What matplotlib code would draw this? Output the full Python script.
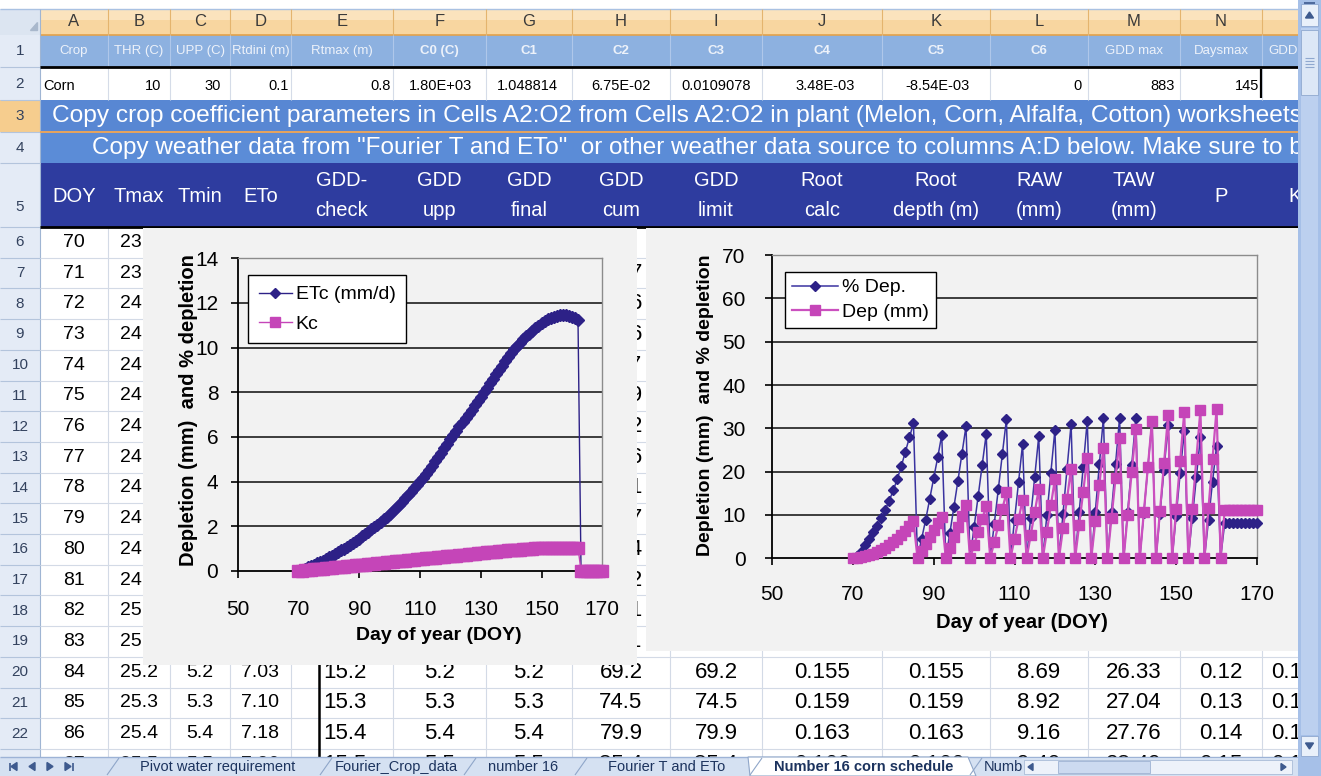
import matplotlib
matplotlib.use("Agg")
import matplotlib.pyplot as plt
from matplotlib.patches import Rectangle, Polygon

W, H = 1321, 776

# ---------------- chart data ----------------
doy = list(range(70, 171))

etc_mm = [0.00, 0.05, 0.10, 0.16, 0.22, 0.28, 0.34, 0.41, 0.47, 0.54,
          0.61, 0.68, 0.76, 0.84, 0.92, 1.00, 1.08, 1.17, 1.26, 1.35,
          1.45, 1.55, 1.65, 1.75, 1.86, 1.97, 2.08, 2.20, 2.31, 2.43,
          2.56, 2.69, 2.83, 2.97, 3.11, 3.25, 3.40, 3.55, 3.70, 3.85,
          4.01, 4.18, 4.36, 4.54, 4.72, 4.91, 5.10, 5.30, 5.50, 5.70,
          5.90, 6.09, 6.28, 6.47, 6.66, 6.85, 7.04, 7.23, 7.42, 7.61,
          7.80, 8.00, 8.20, 8.40, 8.60, 8.80, 9.00, 9.19, 9.38, 9.57,
          9.75, 9.92, 10.08, 10.23, 10.37, 10.50, 10.62, 10.74, 10.87, 10.99,
          11.10, 11.19, 11.27, 11.34, 11.39, 11.42, 11.44, 11.45, 11.44, 11.42,
          11.38, 11.33, 11.25, 0, 0, 0, 0, 0, 0, 0,
          0]

kc = [0.00, 0.01, 0.03, 0.04, 0.05, 0.07, 0.08, 0.09, 0.11, 0.12,
      0.13, 0.15, 0.16, 0.17, 0.19, 0.20, 0.21, 0.23, 0.24, 0.25,
      0.27, 0.28, 0.29, 0.31, 0.32, 0.33, 0.35, 0.36, 0.37, 0.39,
      0.40, 0.41, 0.43, 0.44, 0.45, 0.47, 0.48, 0.49, 0.51, 0.52,
      0.53, 0.55, 0.56, 0.57, 0.59, 0.60, 0.61, 0.63, 0.64, 0.65,
      0.67, 0.68, 0.69, 0.71, 0.72, 0.73, 0.75, 0.76, 0.77, 0.79,
      0.80, 0.81, 0.83, 0.84, 0.85, 0.87, 0.88, 0.89, 0.91, 0.92,
      0.93, 0.94, 0.95, 0.96, 0.97, 0.98, 0.99, 1.00, 1.01, 1.02,
      1.02, 1.03, 1.03, 1.04, 1.04, 1.04, 1.05, 1.05, 1.05, 1.05,
      1.05, 1.05, 1.05, 0, 0, 0, 0, 0, 0, 0,
      0]

pct_dep = [0.0, 0.5, 1.5, 3.0, 4.5, 6.0, 7.5, 9.3, 11.2, 13.3,
           15.7, 18.3, 21.3, 24.6, 27.9, 31.2, 0.0, 4.4, 8.8, 13.6,
           18.5, 23.3, 28.5, 0.0, 5.8, 11.8, 17.9, 24.2, 30.5, 0.0,
           7.2, 14.3, 21.5, 28.7, 0.0, 8.0, 16.0, 24.1, 32.1, 0.0,
           8.8, 17.6, 26.4, 0.0, 9.4, 18.8, 28.2, 0.0, 9.9, 19.8,
           29.7, 0.0, 10.3, 20.7, 31.0, 0.0, 10.6, 21.2, 31.8, 0.0,
           10.8, 21.7, 32.5, 0.0, 10.8, 21.7, 32.5, 0.0, 10.8, 21.5,
           32.3, 0.0, 10.5, 21.0, 31.5, 0.0, 10.3, 20.5, 30.8, 0.0,
           9.8, 19.7, 29.5, 0.0, 9.4, 18.7, 28.1, 0.0, 8.8, 17.7,
           26.0, 0.0, 8.1, 8.1, 8.1, 8.1, 8.1, 8.1, 8.1, 8.1,
           8.1]

dep_mm = [0.0, 0.1, 0.3, 0.5, 0.8, 1.1, 1.5, 1.9, 2.4, 3.0,
          3.7, 4.4, 5.3, 6.3, 7.5, 8.7, 0.0, 1.6, 3.3, 5.0,
          6.6, 8.2, 9.6, 0.0, 2.4, 4.9, 7.3, 9.7, 12.2, 0.0,
          3.1, 6.0, 9.0, 12.1, 0.0, 3.8, 7.6, 11.4, 15.2, 0.0,
          4.5, 9.0, 13.5, 0.0, 5.3, 10.6, 16.0, 0.0, 6.1, 12.2,
          18.3, 0.0, 6.9, 13.8, 20.7, 0.0, 7.7, 15.4, 23.2, 0.0,
          8.5, 17.0, 25.5, 0.0, 9.3, 18.5, 27.8, 0.0, 10.0, 19.9,
          29.8, 0.0, 10.6, 21.1, 31.6, 0.0, 11.0, 22.0, 33.0, 0.0,
          11.3, 22.5, 33.8, 0.0, 11.5, 23.0, 34.3, 0.0, 11.6, 23.0,
          34.5, 0.0, 11.1, 11.1, 11.1, 11.1, 11.1, 11.1, 11.1, 11.1,
          11.1]

x_ticks = [50, 70, 90, 110, 130, 150, 170]

# ---------------- worksheet text ----------------
col_letters = ["A", "B", "C", "D", "E", "F", "G", "H", "I", "J", "K", "L", "M", "N"]
row1_labels = ["Crop", "THR (C)", "UPP (C)", "Rtdini (m)", "Rtmax (m)", "C0 (C)", "C1", "C2",
               "C3", "C4", "C5", "C6", "GDD max", "Daysmax", "GDD"]
row2_values = ["Corn", "10", "30", "0.1", "0.8", "1.80E+03", "1.048814", "6.75E-02",
               "0.0109078", "3.48E-03", "-8.54E-03", "0", "883", "145"]
row3_text = "Copy crop coefficient parameters in Cells A2:O2 from Cells A2:O2 in plant (Melon, Corn, Alfalfa, Cotton) worksheets"
row4_text = "Copy weather data from \"Fourier T and ETo\"  or other weather data source to columns A:D below. Make sure to b"
row5_headers = [["DOY"], ["Tmax"], ["Tmin"], ["ETo"], ["GDD-", "check"], ["GDD", "upp"], ["GDD", "final"],
                ["GDD", "cum"], ["GDD", "limit"], ["Root", "calc"], ["Root", "depth (m)"], ["RAW", "(mm)"],
                ["TAW", "(mm)"], ["P"], ["K"]]
sheet_doy = list(range(70, 84))
sheet_tmax = ["23.8", "23.9", "24.0", "24.1", "24.2", "24.3", "24.4", "24.5", "24.6",
              "24.7", "24.8", "24.9", "25.0", "25.1"]
sheet_gddcum = ["6.9", "10.7", "14.6", "18.6", "22.7", "26.9", "31.2", "35.6", "40.1",
                "44.7", "49.4", "54.2", "59.1", "64.1"]
row20 = ["84", "25.2", "5.2", "7.03", "15.2", "5.2", "5.2", "69.2", "69.2", "0.155", "0.155", "8.69", "26.33", "0.12", "0.13"]
row21 = ["85", "25.3", "5.3", "7.10", "15.3", "5.3", "5.3", "74.5", "74.5", "0.159", "0.159", "8.92", "27.04", "0.13", "0.13"]
row22 = ["86", "25.4", "5.4", "7.18", "15.4", "5.4", "5.4", "79.9", "79.9", "0.163", "0.163", "9.16", "27.76", "0.14", "0.14"]
row23 = ["87", "25.5", "5.5", "7.26", "15.5", "5.5", "5.5", "85.4", "85.4", "0.166", "0.166", "9.40", "28.49", "0.15", "0.14"]
tab_names = ["Pivot water requirement", "Fourier_Crop_data", "number 16", "Fourier T and ETo",
             "Number 16 corn schedule", "Numb"]

# ---------------- layout (pixels) ----------------
col_edges = [40, 108, 170, 230, 291, 393, 486, 572, 670, 762, 882, 990, 1088, 1180, 1262, 1340]
col_mid = [(col_edges[i] + col_edges[i + 1]) / 2 for i in range(14)] + [1295]
data_mid = list(col_mid)
data_mid[4] = 345
ROW_TOP = 227
ROW_H = 30.7

plt.rcParams["font.family"] = ["Liberation Sans", "DejaVu Sans"]

fig = plt.figure(figsize=(W / 100, H / 100), dpi=100)


def pix_axes(z):
    a = fig.add_axes([0, 0, 1, 1], zorder=z)
    a.set_xlim(0, W)
    a.set_ylim(H, 0)
    a.axis("off")
    return a


def box(a, x0, y0, x1, y1, color, z=1, ec="none", lw=0):
    a.add_patch(Rectangle((x0, y0), x1 - x0, y1 - y0, facecolor=color, edgecolor=ec, lw=lw, zorder=z))


def seg(a, x0, y0, x1, y1, color, lw=0.8, z=2):
    a.plot([x0, x1], [y0, y1], color=color, lw=lw, zorder=z, solid_capstyle="butt")


def txt(a, x, y, s, size, color="black", ha="center", weight="normal", z=3):
    return a.text(x, y, s, fontsize=size, color=color, ha=ha, va="center", weight=weight, zorder=z)


bg = pix_axes(0)

# top strip + column header row
box(bg, 0, 0, W, 9, "white")
seg(bg, 0, 8.5, W, 8.5, "#A9C1E2", 1.0)
box(bg, 40, 9, 1298, 35, "#F8D6A0")
box(bg, 40, 9, 1298, 20, "#FBE3BD", z=1.1)
seg(bg, 40, 34.5, 1298, 34.5, "#E3A24B", 1.2)
box(bg, 0, 9, 40, 35, "#DCE5F1")
bg.add_patch(Polygon([[30, 30], [37, 30], [37, 22]], closed=True, color="#A9B8CC", zorder=2))
for i, c in enumerate(col_letters):
    txt(bg, col_mid[i], 22, c, 12, "#3A3A3A")
for e in col_edges[1:-1]:
    seg(bg, e, 9, e, 35, "#E4B46E", 0.8)

# row headers
box(bg, 0, 35, 40, 776, "#E4EBF6")
seg(bg, 40, 9, 40, 776, "#9FB5D3", 0.8)
row_bounds = [(35, 67), (67, 100), (100, 132), (132, 163), (163, 227)]
for n in range(6, 23):
    row_bounds.append((ROW_TOP + (n - 6) * ROW_H, ROW_TOP + (n - 5) * ROW_H))
box(bg, 0, 100, 40, 132, "#F6CD8E", z=1.2)
for n, (t, b) in enumerate(row_bounds, start=1):
    seg(bg, 0, b, 40, b, "#B3C4DC", 0.8)
    ymid = (t + b) / 2 + (12 if n == 5 else 0)
    txt(bg, 20, ymid, str(n), 11, "#33425E")

# row 1: parameter names
box(bg, 40, 35, 1298, 67, "#8DB1E0")
for e in col_edges[1:-1]:
    seg(bg, e, 35, e, 66, "#AFC7EA", 0.8)
for i, s in enumerate(row1_labels):
    bold = s.startswith("C") and s != "Crop"
    x = col_mid[i] if i < 14 else 1268
    txt(bg, x, 51, s, 9.5, "#EDF2FA", ha="center" if i < 14 else "left",
        weight="bold" if bold else "normal")
seg(bg, 40, 67, 1298, 67, "black", 2.0, z=2.5)

# row 2: parameter values
box(bg, 40, 68, 1298, 100, "white")
for e in col_edges[1:-1]:
    seg(bg, e, 68, e, 100, "#D5DCE8", 0.8)
row2_x = [43, 153, 213, 279, 381, 440, 527, 621, 716, 825, 938, 1078, 1163, 1247]
for i, s in enumerate(row2_values):
    txt(bg, row2_x[i], 86, s, 10.5, "black", ha="left" if i == 0 else "center")
seg(bg, 1261, 69, 1261, 98, "black", 1.6, z=3)

# rows 3 and 4: instruction banners
box(bg, 40, 100, 1298, 132, "#5887D3")
box(bg, 40, 132, 1298, 163, "#5B8CD7")
seg(bg, 40, 132, 1298, 132, "#E8A45C", 1.4)
renderer = fig.canvas.get_renderer()


def fit(t, width):
    w = t.get_window_extent(renderer).width
    t.set_fontsize(t.get_fontsize() * width / w)


t3 = txt(bg, 52, 116, row3_text, 16, "white", ha="left")
fit(t3, 1252)
t4 = txt(bg, 92, 148, row4_text, 16, "white", ha="left")
fit(t4, 1214)

# row 5: column headings
box(bg, 40, 163, 1298, 227, "#2E3C9F")
for i, lines in enumerate(row5_headers):
    if len(lines) == 1:
        txt(bg, col_mid[i], 197, lines[0], 14.5, "white")
    else:
        txt(bg, col_mid[i], 181, lines[0], 14.5, "white")
        txt(bg, col_mid[i], 211, lines[1], 14.5, "white")
seg(bg, 40, 227, 1298, 227, "black", 2.0, z=2.5)

# data cells
box(bg, 40, 228, 1298, 776, "white", z=0.5)
for n in range(6, 24):
    b = ROW_TOP + (n - 5) * ROW_H
    seg(bg, 40, b, 1298, b, "#D3DAE6", 0.8)
for e in col_edges[1:-1]:
    seg(bg, e, 228, e, 776, "#D3DAE6", 0.8)
for k in range(14):
    y = ROW_TOP + (k + 0.5) * ROW_H
    txt(bg, col_mid[0], y, str(sheet_doy[k]), 14)
    txt(bg, col_mid[1], y, sheet_tmax[k], 14)
    txt(bg, col_mid[7], y, sheet_gddcum[k], 16)
# row 23 only peeks out above the sheet tabs
clip23 = Rectangle((0, 748), W, 9, transform=bg.transData)
for k, row in enumerate([row20, row21, row22, row23]):
    y = ROW_TOP + (k + 14.5) * ROW_H
    for i, s in enumerate(row):
        if i == 14:
            t = txt(bg, 1271, y, s, 16, ha="left")
        else:
            t = txt(bg, data_mid[i], y, s, 14 if i < 4 else 16)
        if k == 3:
            t.set_clip_path(clip23)
seg(bg, 319, 660, 319, 776, "black", 1.8, z=3)

# ---------------- chart areas ----------------
cb = pix_axes(1)
box(cb, 143, 228, 637, 665, "#F2F2F2")
box(cb, 646, 228, 1298, 651, "#F2F2F2")

BLUE = "#2D2187"
PINK = "#C545B8"


def style(ax, ymax, ystep):
    ax.set_facecolor("#F2F2F2")
    ax.set_xlim(50, 170)
    ax.set_ylim(0, ymax)
    ax.set_xticks(x_ticks)
    ax.set_yticks(range(0, ymax + 1, ystep))
    for y in range(ystep, ymax, ystep):
        ax.axhline(y, color="#1E1E1E", lw=1.2, zorder=0.5)
    for s in ["top", "right"]:
        ax.spines[s].set_color("#8C8C8C")
        ax.spines[s].set_linewidth(1.0)
    for s in ["left", "bottom"]:
        ax.spines[s].set_color("black")
        ax.spines[s].set_linewidth(1.3)
    ax.tick_params(direction="out", length=5, width=1.2, labelsize=15, colors="black")


# left chart: ETc and Kc
ax1 = fig.add_axes([237.7 / W, 1 - 571 / H, 364.6 / W, 312.7 / H], zorder=2)
style(ax1, 14, 2)
ax1.tick_params(axis="x", pad=16)
ax1.tick_params(axis="y", pad=9)
ax1.plot(doy, etc_mm, color=BLUE, lw=1.0, marker="D", ms=6.0, mfc=BLUE, mec=BLUE,
         label="ETc (mm/d)", clip_on=False, zorder=3)
ax1.plot(doy, kc, color=PINK, lw=1.0, marker="s", ms=8, mfc=PINK, mec=PINK,
         label="Kc", clip_on=False, zorder=4)
ax1.set_xlabel("Day of year (DOY)", fontsize=14, weight="bold")
ax1.xaxis.set_label_coords((439 - 237.7) / 364.6, (571 - 636) / 312.7)
ax1.xaxis.label.set_va("center")
ax1.set_ylabel("Depletion (mm)  and % depletion", fontsize=14.5, weight="bold")
ax1.yaxis.set_label_coords((189 - 237.7) / 364.6, (571 - 410) / 312.7)
ax1.yaxis.label.set_va("center")
leg1 = ax1.legend(loc="upper left", bbox_to_anchor=(248 / W, 1 - 275 / H), bbox_transform=fig.transFigure,
                  fancybox=False, edgecolor="black", facecolor="white", framealpha=1, borderaxespad=0,
                  fontsize=14, handlelength=1.7, handletextpad=0.2, borderpad=0.55, labelspacing=0.6,
                  markerscale=0.9)
leg1.get_frame().set_linewidth(1.0)

# right chart: % depletion and depletion in mm
ax2 = fig.add_axes([772 / W, 1 - 558.3 / H, 485 / W, 303.1 / H], zorder=2)
style(ax2, 70, 10)
ax2.tick_params(axis="x", pad=14)
ax2.tick_params(axis="y", pad=14)
ax2.plot(doy, pct_dep, color="#3A33A0", lw=1.1, marker="D", ms=4.8, mfc=BLUE, mec=BLUE,
         label="% Dep.", clip_on=False, zorder=3)
ax2.plot(doy, dep_mm, color="#CB50BF", lw=1.6, marker="s", ms=7, mfc=PINK, mec=PINK,
         label="Dep (mm)", clip_on=False, zorder=4)
ax2.set_xlabel("Day of year (DOY)", fontsize=14.5, weight="bold")
ax2.xaxis.set_label_coords((1022 - 772) / 485, (558.3 - 622) / 303.1)
ax2.xaxis.label.set_va("center")
ax2.set_ylabel("Depletion (mm)  and % depletion", fontsize=14, weight="bold")
ax2.yaxis.set_label_coords((706 - 772) / 485, (558.3 - 405) / 303.1)
ax2.yaxis.label.set_va("center")
leg2 = ax2.legend(loc="upper left", bbox_to_anchor=(785 / W, 1 - 272 / H), bbox_transform=fig.transFigure,
                  fancybox=False, edgecolor="black", facecolor="white", framealpha=1, borderaxespad=0,
                  fontsize=14, handlelength=2.4, handletextpad=0.2, borderpad=0.35, labelspacing=0.35)
leg2.get_frame().set_linewidth(1.0)

# ---------------- sheet tabs and scroll bars ----------------
ov = pix_axes(5)
box(ov, 0, 757, 1298, 776, "#D5E1F2")
seg(ov, 0, 757, 1298, 757, "#9DB3D6", 1.0)
for x, d, bar in [(14, -1, True), (32, -1, False), (50, 1, False), (68, 1, True)]:
    ov.add_patch(Polygon([[x + 3 * d, 766.5], [x - 3 * d, 762.5], [x - 3 * d, 770.5]], closed=True,
                         color="#3E5A8E", zorder=3))
    if bar:
        seg(ov, x + 4.5 * d, 762.5, x + 4.5 * d, 770.5, "#3E5A8E", 1.2, z=3)
tab_x = [(105, 318), (318, 462), (462, 573), (573, 748), (748, 968), (968, 1030)]
for (x0, x1), name in zip(tab_x, tab_names):
    active = name == "Number 16 corn schedule"
    if active:
        ov.add_patch(Polygon([[x0, 757], [x1, 757], [x1 + 8, 776], [x0 + 2, 776]], closed=True,
                             facecolor="white", edgecolor="#8FA6C9", lw=0.8, zorder=2))
    seg(ov, x0 + 2, 775, x0 + 14, 758, "#8FA6C9", 0.8, z=3)
    tx = txt(ov, (x0 + x1) / 2 + 6, 767, name, 10.5, "#1C335E", weight="bold" if active else "normal", z=4)
    if name == "Numb":
        tx.set_ha("left")
        tx.set_x(x0 + 16)
box(ov, 1022, 758, 1298, 776, "#D5E1F2", z=5)
box(ov, 1024, 760, 1292, 774, "#EDF2FA", z=5, ec="#A9BCD8", lw=0.6)
box(ov, 1058, 761, 1150, 773, "#CCDAF0", z=5.1, ec="#9DB2D3", lw=0.6)
ov.add_patch(Polygon([[1028, 767], [1033, 763.5], [1033, 770.5]], closed=True, color="#3E5A8E", zorder=6))
ov.add_patch(Polygon([[1286, 767], [1281, 763.5], [1281, 770.5]], closed=True, color="#3E5A8E", zorder=6))

box(ov, 1298, 0, W, H, "#A6C0E8", z=6)
box(ov, 1301, 28, 1318, 735, "#BCD0EF", z=6.1)
box(ov, 1301, 4, 1318, 26, "#E9F0FA", z=6.2, ec="#8FA8CF", lw=0.6)
box(ov, 1301, 30, 1318, 95, "#DCE7F6", z=6.2, ec="#8FA8CF", lw=0.6)
for y in [58, 61, 64, 67]:
    seg(ov, 1305, y, 1314, y, "#8FA8CF", 0.8, z=6.3)
box(ov, 1301, 736, 1318, 756, "#E9F0FA", z=6.2, ec="#8FA8CF", lw=0.6)
ov.add_patch(Polygon([[1309.5, 12], [1305.5, 18], [1313.5, 18]], closed=True, color="#3E5A8E", zorder=6.4))
ov.add_patch(Polygon([[1309.5, 749], [1305.5, 743], [1313.5, 743]], closed=True, color="#3E5A8E", zorder=6.4))
seg(ov, 1304, 3, 1315, 3, "#3E5A8E", 1.2, z=6.4)

fig.savefig("out.png", dpi=100)
